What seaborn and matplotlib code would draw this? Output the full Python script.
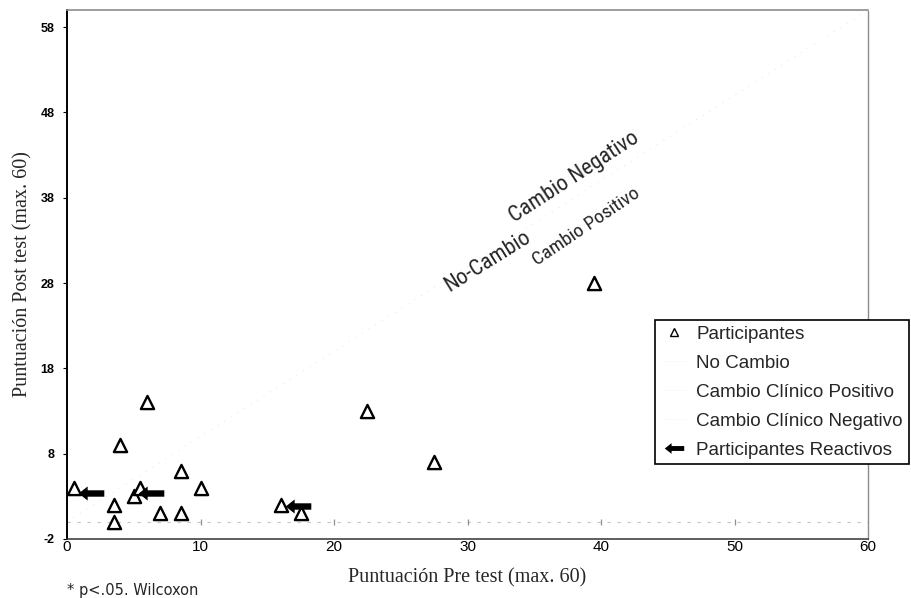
import matplotlib
matplotlib.use("Agg")
import matplotlib.pyplot as plt
from matplotlib.path import Path
from matplotlib.lines import Line2D
import seaborn as sns
import pandas as pd

# ---- data ----
pre_test = [0.5, 3.5, 3.5, 4.0, 6.0, 5.0, 5.5, 7.0, 8.5, 8.5, 10.0, 16.0, 17.5, 22.5, 27.5, 39.5]
post_test = [4.0, 2.0, 0.0, 9.0, 14.0, 3.0, 4.0, 1.0, 1.0, 6.0, 4.0, 2.0, 1.0, 13.0, 7.0, 28.0]

reactive_x = [1.8, 6.3, 17.3]
reactive_y = [3.4, 3.4, 1.9]

no_change_x = [0, 60]
no_change_y = [0, 60]
clin_pos_x = [0, 60]
clin_pos_y = [-3, 57]
clin_neg_x = [0, 60]
clin_neg_y = [3, 63]

x_ticks = [0, 10, 20, 30, 40, 50, 60]
y_ticks = [-2, 8, 18, 28, 38, 48, 58]

legend_labels = ["Participantes", "No Cambio", "Cambio Clínico Positivo",
                 "Cambio Clínico Negativo", "Participantes Reactivos"]

sns.set_theme(style="white")
plt.rcParams["font.family"] = ["Liberation Sans", "DejaVu Sans"]

fig = plt.figure(figsize=(9.12, 5.98), dpi=100)
ax = fig.add_axes([0.0735, 0.0987, 0.8783, 0.8846])

# arrow marker (left pointing)
arrow_verts = [(-1.0, 0.0), (-0.3, 0.55), (-0.3, 0.25), (1.0, 0.25),
               (1.0, -0.25), (-0.3, -0.25), (-0.3, -0.55), (-1.0, 0.0)]
arrow = Path(arrow_verts, [Path.MOVETO] + [Path.LINETO] * 6 + [Path.CLOSEPOLY])

# faint reference lines
sns.lineplot(x=no_change_x, y=no_change_y, ax=ax, color="#e4e4e4", lw=0.7,
             linestyle=(0, (1, 7)), legend=False)
sns.lineplot(x=clin_pos_x, y=clin_pos_y, ax=ax, color="#f4f4f4", lw=0.5,
             linestyle=(0, (1, 7)), legend=False)
sns.lineplot(x=clin_neg_x, y=clin_neg_y, ax=ax, color="#f4f4f4", lw=0.5,
             linestyle=(0, (1, 7)), legend=False)

# faint x-axis at y = 0 with small tick marks
ax.axhline(0, color="#c4c4c4", lw=0.8, linestyle=(0, (3, 6)), zorder=1)
ax.plot(x_ticks[1:-1], [0] * (len(x_ticks) - 2), ls="", marker="|",
        color="#909090", ms=5, mew=0.9, zorder=1)

df = pd.DataFrame({"pre": pre_test, "post": post_test})
sns.scatterplot(data=df, x="pre", y="post", ax=ax, marker="^", s=90,
                facecolor="white", edgecolor="black", linewidth=1.7, zorder=3,
                legend=False)

ax.scatter(reactive_x, reactive_y, marker=arrow, s=340, color="black",
           linewidths=0, zorder=4)

ax.set_xlim(0, 60)
ax.set_ylim(-2, 60)
ax.set_xticks(x_ticks)
ax.set_yticks(y_ticks)
ax.set_xticklabels([str(v) for v in x_ticks], fontsize=11)
ax.set_yticklabels([str(v) for v in y_ticks], fontsize=9, fontweight="bold")
ax.tick_params(axis="x", length=0, pad=1, colors="black")
ax.tick_params(axis="y", length=3, width=0.8, direction="out", pad=6,
               left=True, colors="black")

for side, sp in ax.spines.items():
    sp.set_visible(True)
ax.spines["left"].set_color("black")
ax.spines["left"].set_linewidth(1.4)
ax.spines["bottom"].set_color("#333333")
ax.spines["bottom"].set_linewidth(1.1)
ax.spines["top"].set_color("#8c8c8c")
ax.spines["top"].set_linewidth(1.2)
ax.spines["right"].set_color("#8c8c8c")
ax.spines["right"].set_linewidth(1.0)
ax.spines["right"].set_linestyle((0, (2, 1)))

serif = ["Liberation Serif", "DejaVu Serif"]
ax.set_xlabel("Puntuación Pre test (max. 60)", fontsize=14.5, family=serif,
              labelpad=10)
ax.set_ylabel("Puntuación Post test (max. 60)", fontsize=14.5, family=serif,
              labelpad=6)

narrow = ["Roboto Condensed", "Liberation Sans Narrow", "Roboto", "DejaVu Sans"]
ax.text(38.0, 40.4, "Cambio Negativo", rotation=33, rotation_mode="anchor",
        ha="center", va="center", fontsize=16, family=narrow,
        fontstretch="condensed")
ax.text(31.5, 30.5, "No-Cambio", rotation=32, rotation_mode="anchor",
        ha="center", va="center", fontsize=16, family=narrow,
        fontstretch="condensed")
ax.text(38.9, 34.6, "Cambio Positivo", rotation=34, rotation_mode="anchor",
        ha="center", va="center", fontsize=14, family=narrow,
        fontstretch="condensed")

handles = [
    Line2D([], [], ls="", marker="^", ms=6, mfc="white", mec="black", mew=1.0),
    Line2D([], [], color="#f0f0f0", lw=0.5, ls=":"),
    Line2D([], [], color="#f0f0f0", lw=0.5, ls=":"),
    Line2D([], [], color="#f0f0f0", lw=0.5, ls=":"),
    Line2D([], [], ls="", marker=arrow, ms=14, color="black", mew=0),
]
leg = fig.legend(handles, legend_labels, loc="upper left",
                 bbox_to_anchor=(0.718, 0.465), bbox_transform=fig.transFigure,
                 frameon=True, fancybox=False, framealpha=1, fontsize=13.6,
                 borderpad=0.3, labelspacing=0.62, handlelength=1.4,
                 handletextpad=0.5, borderaxespad=0)
leg.get_frame().set_edgecolor("black")
leg.get_frame().set_linewidth(1.2)

fig.text(0.073, 1 - 590 / 598, "* p<.05. Wilcoxon", fontsize=10.5,
         ha="left", va="center", family=["DejaVu Sans"])

fig.savefig("out.png", dpi=100)
